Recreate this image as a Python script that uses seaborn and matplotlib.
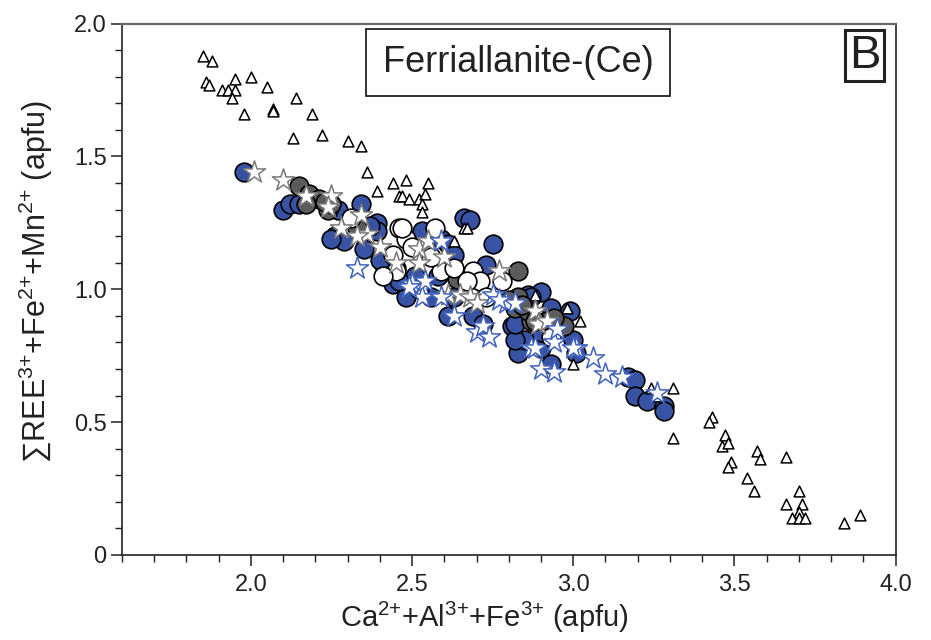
import matplotlib
matplotlib.use("Agg")
import matplotlib.pyplot as plt
from matplotlib.ticker import MultipleLocator
import seaborn as sns
import pandas as pd

# ---------------- data ----------------
tri_x = [1.85, 1.88, 1.86, 1.87, 1.91, 1.93, 1.95, 1.95, 1.94, 2.00, 1.98, 2.05, 2.07, 2.07,
         2.14, 2.19, 2.13, 2.22, 2.30, 2.34, 2.36, 2.39, 2.44, 2.48, 2.55, 2.46, 2.47, 2.49,
         2.52, 2.54, 2.53, 2.53, 2.66, 2.67, 2.63, 2.98, 3.02, 3.00, 2.88, 3.24, 3.26, 3.31,
         3.43, 3.42, 3.31, 3.47, 3.46, 3.48, 3.57, 3.58, 3.66, 3.49, 3.48, 3.54, 3.56, 3.70,
         3.66, 3.71, 3.70, 3.68, 3.70, 3.72, 3.84, 3.89]
tri_y = [1.88, 1.86, 1.78, 1.77, 1.75, 1.75, 1.79, 1.75, 1.72, 1.80, 1.66, 1.76, 1.68, 1.67,
         1.72, 1.66, 1.57, 1.58, 1.56, 1.54, 1.44, 1.37, 1.40, 1.41, 1.40, 1.35, 1.35, 1.34,
         1.34, 1.36, 1.32, 1.29, 1.23, 1.23, 1.18, 0.93, 0.88, 0.72, 0.98, 0.63, 0.60, 0.63,
         0.52, 0.50, 0.44, 0.45, 0.41, 0.42, 0.39, 0.36, 0.37, 0.35, 0.33, 0.29, 0.24, 0.24,
         0.19, 0.19, 0.16, 0.14, 0.14, 0.14, 0.12, 0.15]

blue_x = [1.98, 2.10, 2.12, 2.15, 2.27, 2.34, 2.39, 2.39, 2.26, 2.29, 2.35, 2.41, 2.45, 2.44,
          2.48, 2.51, 2.40, 2.25, 2.53, 2.59, 2.61, 2.63, 2.56, 2.61, 2.63, 2.66, 2.68, 2.69,
          2.72, 2.73, 2.75, 2.81, 2.83, 2.83, 2.86, 2.90, 2.93, 2.85, 2.90, 2.93, 2.99, 3.00,
          3.01, 2.89, 2.82, 2.82, 2.87, 2.90, 3.17, 3.19, 3.19, 3.23, 3.28, 3.28, 2.58, 2.52,
          2.46, 2.37]
blue_y = [1.44, 1.30, 1.32, 1.32, 1.30, 1.32, 1.25, 1.22, 1.20, 1.18, 1.15, 1.10, 1.08, 1.02,
          0.97, 1.05, 1.11, 1.19, 1.22, 1.19, 1.17, 1.13, 0.97, 0.90, 0.97, 1.27, 1.26, 0.90,
          0.87, 1.09, 1.17, 0.86, 0.81, 0.76, 0.98, 0.99, 0.93, 0.81, 0.78, 0.72, 0.92, 0.81,
          0.76, 0.87, 0.81, 0.87, 0.97, 0.84, 0.67, 0.66, 0.60, 0.58, 0.56, 0.54, 1.05, 1.00,
          1.03, 1.24]

gray_x = [2.15, 2.18, 2.21, 2.17, 2.24, 2.25, 2.23, 2.33, 2.83, 2.64, 2.83, 2.82, 2.87, 2.92,
          2.97, 2.86, 2.88, 2.94, 2.84, 2.80]
gray_y = [1.39, 1.36, 1.34, 1.32, 1.30, 1.32, 1.33, 1.23, 1.07, 1.04, 0.97, 0.93, 0.88, 0.88,
          0.86, 0.92, 0.88, 0.89, 0.94, 0.96]

white_x = [2.31, 2.46, 2.48, 2.44, 2.45, 2.47, 2.57, 2.53, 2.59, 2.63, 2.69, 2.71, 2.67, 2.73,
           2.78, 2.93, 2.41, 2.56, 2.50]
white_y = [1.27, 1.23, 1.19, 1.13, 1.07, 1.23, 1.23, 1.13, 1.07, 1.08, 1.07, 1.03, 1.03, 0.97,
           1.03, 0.82, 1.05, 1.12, 1.16]

gstar_x = [2.01, 2.10, 2.17, 2.25, 2.24, 2.34, 2.28, 2.36, 2.40, 2.52, 2.52, 2.33, 2.60, 2.77,
           2.61, 2.65, 2.68, 2.70, 2.88, 2.89, 2.82, 2.92, 2.55, 2.45]
gstar_y = [1.44, 1.41, 1.35, 1.35, 1.31, 1.28, 1.23, 1.21, 1.16, 1.15, 1.10, 1.20, 1.12, 1.07,
           0.98, 0.98, 0.97, 0.95, 0.92, 0.87, 0.95, 0.88, 1.18, 1.10]

bstar_x = [2.33, 2.50, 2.53, 2.53, 2.59, 2.49, 2.54, 2.59, 2.63, 2.70, 2.72, 2.74, 2.75, 2.79,
           2.82, 2.87, 2.94, 2.95, 3.01, 3.06, 2.90, 2.94, 3.10, 3.15, 2.77, 2.88, 3.26, 3.00]
bstar_y = [1.08, 1.02, 1.01, 0.97, 1.18, 1.01, 1.03, 0.97, 0.90, 0.84, 0.86, 0.82, 0.98, 0.95,
           0.95, 0.78, 0.80, 0.85, 0.78, 0.74, 0.70, 0.69, 0.68, 0.67, 0.96, 0.78, 0.61, 0.78]

x_major = [2.0, 2.5, 3.0, 3.5, 4.0]
x_labels = ["2.0", "2.5", "3.0", "3.5", "4.0"]
y_major = [0, 0.5, 1.0, 1.5, 2.0]
y_labels = ["0", "0.5", "1.0", "1.5", "2.0"]

title_text = "Ferriallanite-(Ce)"
panel_text = "B"
xlabel = "Ca$^{2{+}}$+Al$^{3{+}}$+Fe$^{3{+}}$ (apfu)"
ylabel = "\u2211REE$^{3{+}}$+Fe$^{2{+}}$+Mn$^{2{+}}$ (apfu)"

# ---------------- style ----------------
sns.set_theme(style="white")
plt.rcParams["font.family"] = ["Liberation Sans", "DejaVu Sans"]
plt.rcParams["mathtext.fontset"] = "custom"
plt.rcParams["mathtext.rm"] = "Liberation Sans"
plt.rcParams["mathtext.it"] = "Liberation Sans"
plt.rcParams["mathtext.bf"] = "Liberation Sans"

fig = plt.figure(figsize=(9.31, 6.40), dpi=100)
ax = fig.add_axes([0.131, 0.133, 0.831, 0.830])

BLUE = "#3953a4"
GRAY = "#5b5b5b"

def df(x, y):
    return pd.DataFrame({"x": x, "y": y})

sns.scatterplot(data=df(blue_x, blue_y), x="x", y="y", ax=ax, s=180, marker="o",
                color=BLUE, edgecolor="black", linewidth=1.2, zorder=2, legend=False)
sns.scatterplot(data=df(gray_x, gray_y), x="x", y="y", ax=ax, s=180, marker="o",
                color=GRAY, edgecolor="black", linewidth=1.2, zorder=3, legend=False)
sns.scatterplot(data=df(white_x, white_y), x="x", y="y", ax=ax, s=180, marker="o",
                color="white", edgecolor="black", linewidth=1.2, zorder=4, legend=False)
sns.scatterplot(data=df(tri_x, tri_y), x="x", y="y", ax=ax, s=60, marker="^",
                color="white", edgecolor="black", linewidth=1.1, zorder=5, legend=False)
sns.scatterplot(data=df(gstar_x, gstar_y), x="x", y="y", ax=ax, s=280, marker="*",
                color="white", edgecolor="#7a7a7a", linewidth=1.1, zorder=6, legend=False)
sns.scatterplot(data=df(bstar_x, bstar_y), x="x", y="y", ax=ax, s=280, marker="*",
                color="white", edgecolor="#4263bd", linewidth=1.1, zorder=7, legend=False)

ax.set_xlim(1.6, 4.0)
ax.set_ylim(0, 2.0)
ax.set_xticks(x_major)
ax.set_xticklabels(x_labels)
ax.xaxis.set_minor_locator(MultipleLocator(0.1))
ax.set_yticks(y_major)
ax.set_yticklabels(y_labels)
ax.yaxis.set_minor_locator(MultipleLocator(0.1))

ax.tick_params(axis="both", which="major", direction="out", length=8, width=1.1,
               color="#222222", labelsize=17, labelcolor="#222222", pad=3,
               bottom=True, left=True, top=False, right=False)
ax.tick_params(axis="both", which="minor", direction="out", length=5, width=1.0,
               color="#222222", bottom=True, left=True, top=False, right=False)
ax.tick_params(axis="x", which="major", pad=6)

for side in ["left", "bottom", "right"]:
    ax.spines[side].set_color("#222222")
    ax.spines[side].set_linewidth(1.2)
ax.spines["top"].set_color("#6a6a6a")
ax.spines["top"].set_linewidth(1.6)

ax.set_xlabel(xlabel, fontsize=21, color="#222222")
ax.set_ylabel(ylabel, fontsize=22, color="#222222")
ax.xaxis.set_label_coords(0.468, -0.084)
ax.yaxis.set_label_coords(-0.087, 0.514)

ax.text(0.512, 0.927, title_text, transform=ax.transAxes, ha="center", va="center",
        fontsize=26, color="#222222", zorder=10,
        bbox=dict(boxstyle="square,pad=0.45", facecolor="white", edgecolor="#222222",
                  linewidth=1.3))
ax.text(0.960, 0.940, panel_text, transform=ax.transAxes, ha="center", va="center",
        fontsize=34, color="#222222", zorder=10,
        bbox=dict(boxstyle="square,pad=0.08", facecolor="white", edgecolor="#222222",
                  linewidth=2.2))

fig.savefig("out.png", dpi=100)
